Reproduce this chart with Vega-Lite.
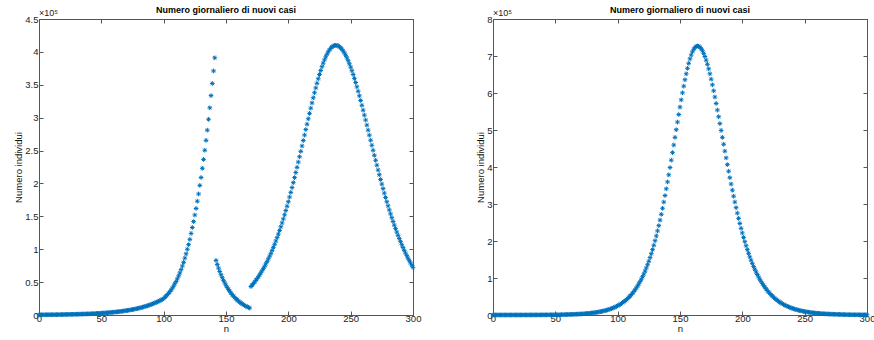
{
"$schema": "https://vega.github.io/schema/vega-lite/v6.json",
"background": "white",
"padding": {"left": 13, "top": 6, "right": 2, "bottom": 0},
"spacing": 54,
"config": {
  "view": {"stroke": null},
  "font": "Liberation Sans",
  "axis": {"grid": false, "domainColor": "#555555", "tickColor": "#555555", "tickSize": -4, "labelFontSize": 9.5, "labelColor": "#222222", "labelPadding": 4, "titleFontSize": 9.5, "titleFontWeight": "normal", "titleColor": "#111111", "titlePadding": 2, "labelFlush": false, "labelOverlap": false},
  "axisX": {"labelPadding": 2, "titlePadding": 1},
  "axisY": {"labelPadding": 5, "titlePadding": 1},
  "title": {"fontSize": 9, "fontWeight": "bold", "color": "#000000", "offset": -6}
},
"datasets": {
"a": [
{"n":0,"c":307},{"n":1,"c":320},{"n":2,"c":335},{"n":3,"c":350},{"n":4,"c":366},{"n":5,"c":382},{"n":6,"c":399},{"n":7,"c":417},{"n":8,"c":436},{"n":9,"c":456},{"n":10,"c":476},{"n":11,"c":498},{"n":12,"c":520},{"n":13,"c":543},{"n":14,"c":568},{"n":15,"c":593},{"n":16,"c":620},{"n":17,"c":648},{"n":18,"c":677},{"n":19,"c":708},{"n":20,"c":739},{"n":21,"c":773},{"n":22,"c":807},{"n":23,"c":844},{"n":24,"c":882},{"n":25,"c":921},{"n":26,"c":963},{"n":27,"c":1006},{"n":28,"c":1051},{"n":29,"c":1099},{"n":30,"c":1148},{"n":31,"c":1200},{"n":32,"c":1254},{"n":33,"c":1310},{"n":34,"c":1369},{"n":35,"c":1431},{"n":36,"c":1495},{"n":37,"c":1562},{"n":38,"c":1633},{"n":39,"c":1706},{"n":40,"c":1783},{"n":41,"c":1863},{"n":42,"c":1947},{"n":43,"c":2034},{"n":44,"c":2126},{"n":45,"c":2222},{"n":46,"c":2322},{"n":47,"c":2426},{"n":48,"c":2535},{"n":49,"c":2649},{"n":50,"c":2768},{"n":51,"c":2893},{"n":52,"c":3023},{"n":53,"c":3159},{"n":54,"c":3301},{"n":55,"c":3450},{"n":56,"c":3605},{"n":57,"c":3767},{"n":58,"c":3937},{"n":59,"c":4114},{"n":60,"c":4299},{"n":61,"c":4492},{"n":62,"c":4695},{"n":63,"c":4906},{"n":64,"c":5127},{"n":65,"c":5357},{"n":66,"c":5598},{"n":67,"c":5850},{"n":68,"c":6113},{"n":69,"c":6388},{"n":70,"c":6676},{"n":71,"c":6976},{"n":72,"c":7290},{"n":73,"c":7618},{"n":74,"c":7961},{"n":75,"c":8319},{"n":76,"c":8693},{"n":77,"c":9084},{"n":78,"c":9493},{"n":79,"c":9920},{"n":80,"c":10366},{"n":81,"c":10833},{"n":82,"c":11320},{"n":83,"c":11830},{"n":84,"c":12362},{"n":85,"c":12918},{"n":86,"c":13500},{"n":87,"c":14107},{"n":88,"c":14742},{"n":89,"c":15405},{"n":90,"c":16098},{"n":91,"c":16822},{"n":92,"c":17579},{"n":93,"c":18370},{"n":94,"c":19197},{"n":95,"c":20061},{"n":96,"c":20964},{"n":97,"c":21907},{"n":98,"c":22893},{"n":99,"c":23923},{"n":100,"c":25000},
{"n":101,"c":27000},{"n":102,"c":29000},{"n":103,"c":31000},{"n":104,"c":33000},{"n":105,"c":35500},{"n":106,"c":38000},{"n":107,"c":41000},{"n":108,"c":44000},{"n":109,"c":47500},{"n":110,"c":51000},{"n":111,"c":55000},{"n":112,"c":59500},{"n":113,"c":64000},{"n":114,"c":69000},{"n":115,"c":74500},{"n":116,"c":80000},{"n":117,"c":86500},{"n":118,"c":93000},{"n":119,"c":100000},{"n":120,"c":107000},{"n":121,"c":115000},{"n":122,"c":124000},{"n":123,"c":133000},{"n":124,"c":142000},{"n":125,"c":152000},{"n":126,"c":162000},{"n":127,"c":173000},{"n":128,"c":184000},{"n":129,"c":197000},{"n":130,"c":209000},{"n":131,"c":223000},{"n":132,"c":236500},{"n":133,"c":250500},{"n":134,"c":265500},{"n":135,"c":281000},{"n":136,"c":297500},{"n":137,"c":315000},{"n":138,"c":333500},{"n":139,"c":352000},{"n":140,"c":371000},{"n":141,"c":391000},
{"n":142,"c":83000},{"n":143,"c":76900},{"n":144,"c":71300},{"n":145,"c":66100},{"n":146,"c":61200},{"n":147,"c":56700},{"n":148,"c":52600},{"n":149,"c":48700},{"n":150,"c":45200},{"n":151,"c":41900},{"n":152,"c":38800},{"n":153,"c":36000},{"n":154,"c":33300},{"n":155,"c":30900},{"n":156,"c":28600},{"n":157,"c":26500},{"n":158,"c":24600},{"n":159,"c":22800},{"n":160,"c":21100},{"n":161,"c":19600},{"n":162,"c":18100},{"n":163,"c":16800},{"n":164,"c":15600},{"n":165,"c":14400},{"n":166,"c":13400},{"n":167,"c":12400},{"n":168,"c":11500},{"n":169,"c":10600},
{"n":170,"c":43300},{"n":171,"c":45500},{"n":172,"c":47800},{"n":173,"c":50300},{"n":174,"c":52800},{"n":175,"c":55400},{"n":176,"c":58200},{"n":177,"c":61100},{"n":178,"c":64200},{"n":179,"c":67300},{"n":180,"c":70600},{"n":181,"c":74100},{"n":182,"c":77800},{"n":183,"c":81500},{"n":184,"c":85400},{"n":185,"c":89500},{"n":186,"c":93700},{"n":187,"c":98200},{"n":188,"c":102800},{"n":189,"c":107500},{"n":190,"c":112500},{"n":191,"c":117600},{"n":192,"c":122900},{"n":193,"c":128400},{"n":194,"c":134100},{"n":195,"c":140000},{"n":196,"c":146100},{"n":197,"c":152300},{"n":198,"c":158800},{"n":199,"c":165400},{"n":200,"c":172200},{"n":201,"c":179300},{"n":202,"c":186400},{"n":203,"c":193700},{"n":204,"c":201200},{"n":205,"c":208900},{"n":206,"c":216600},{"n":207,"c":224500},{"n":208,"c":232500},{"n":209,"c":240600},{"n":210,"c":248800},{"n":211,"c":257000},{"n":212,"c":265300},{"n":213,"c":273600},{"n":214,"c":281900},{"n":215,"c":290100},{"n":216,"c":298300},{"n":217,"c":306500},{"n":218,"c":314500},{"n":219,"c":322400},{"n":220,"c":330300},{"n":221,"c":337900},{"n":222,"c":345200},{"n":223,"c":352300},{"n":224,"c":359100},{"n":225,"c":365600},{"n":226,"c":371700},{"n":227,"c":377500},{"n":228,"c":382900},{"n":229,"c":387900},{"n":230,"c":392400},{"n":231,"c":396400},{"n":232,"c":400000},{"n":233,"c":403000},{"n":234,"c":405500},{"n":235,"c":407500},{"n":236,"c":408900},{"n":237,"c":409700},{"n":238,"c":410000},{"n":239,"c":409800},{"n":240,"c":409000},{"n":241,"c":407800},{"n":242,"c":406100},{"n":243,"c":404000},{"n":244,"c":401300},{"n":245,"c":398300},{"n":246,"c":394800},{"n":247,"c":390900},{"n":248,"c":386600},{"n":249,"c":381900},{"n":250,"c":376800},{"n":251,"c":371400},{"n":252,"c":365700},{"n":253,"c":359700},{"n":254,"c":353400},{"n":255,"c":346900},{"n":256,"c":340200},{"n":257,"c":333200},{"n":258,"c":326100},{"n":259,"c":318800},{"n":260,"c":311400},{"n":261,"c":303900},{"n":262,"c":296400},{"n":263,"c":288700},{"n":264,"c":281100},{"n":265,"c":273400},{"n":266,"c":265700},{"n":267,"c":258000},{"n":268,"c":250400},{"n":269,"c":242800},{"n":270,"c":235200},{"n":271,"c":227800},{"n":272,"c":220400},{"n":273,"c":213200},{"n":274,"c":206000},{"n":275,"c":199000},{"n":276,"c":192100},{"n":277,"c":185300},{"n":278,"c":178700},{"n":279,"c":172200},{"n":280,"c":165900},{"n":281,"c":159700},{"n":282,"c":153700},{"n":283,"c":147900},{"n":284,"c":142200},{"n":285,"c":136600},{"n":286,"c":131300},{"n":287,"c":126100},{"n":288,"c":121100},{"n":289,"c":116200},{"n":290,"c":111500},{"n":291,"c":106900},{"n":292,"c":102500},{"n":293,"c":98200},{"n":294,"c":94100},{"n":295,"c":90200},{"n":296,"c":86400},{"n":297,"c":82700},{"n":298,"c":79200},{"n":299,"c":75800},{"n":300,"c":72500}
],
"b": [
{"n":0,"c":10},{"n":1,"c":10},{"n":2,"c":20},{"n":3,"c":20},{"n":4,"c":20},{"n":5,"c":20},{"n":6,"c":20},{"n":7,"c":20},{"n":8,"c":30},{"n":9,"c":30},{"n":10,"c":30},{"n":11,"c":30},{"n":12,"c":40},{"n":13,"c":40},{"n":14,"c":40},{"n":15,"c":50},{"n":16,"c":50},{"n":17,"c":50},{"n":18,"c":60},{"n":19,"c":60},{"n":20,"c":70},{"n":21,"c":70},{"n":22,"c":80},{"n":23,"c":80},{"n":24,"c":90},{"n":25,"c":100},{"n":26,"c":110},{"n":27,"c":110},{"n":28,"c":120},{"n":29,"c":130},{"n":30,"c":140},{"n":31,"c":150},{"n":32,"c":170},{"n":33,"c":180},{"n":34,"c":190},{"n":35,"c":210},{"n":36,"c":220},{"n":37,"c":240},{"n":38,"c":260},{"n":39,"c":280},{"n":40,"c":300},{"n":41,"c":320},{"n":42,"c":350},{"n":43,"c":370},{"n":44,"c":400},{"n":45,"c":430},{"n":46,"c":470},{"n":47,"c":500},{"n":48,"c":540},{"n":49,"c":580},{"n":50,"c":630},{"n":51,"c":680},{"n":52,"c":730},{"n":53,"c":780},{"n":54,"c":840},{"n":55,"c":910},{"n":56,"c":980},{"n":57,"c":1050},{"n":58,"c":1130},{"n":59,"c":1220},{"n":60,"c":1310},{"n":61,"c":1410},{"n":62,"c":1520},{"n":63,"c":1640},{"n":64,"c":1760},{"n":65,"c":1900},{"n":66,"c":2040},{"n":67,"c":2200},{"n":68,"c":2370},{"n":69,"c":2550},{"n":70,"c":2740},{"n":71,"c":2950},{"n":72,"c":3180},{"n":73,"c":3430},{"n":74,"c":3690},{"n":75,"c":3970},{"n":76,"c":4280},{"n":77,"c":4600},{"n":78,"c":4960},{"n":79,"c":5340},{"n":80,"c":5750},{"n":81,"c":6190},{"n":82,"c":6660},{"n":83,"c":7170},{"n":84,"c":7720},{"n":85,"c":8310},{"n":86,"c":8950},{"n":87,"c":9630},{"n":88,"c":10370},{"n":89,"c":11160},{"n":90,"c":12010},{"n":91,"c":12920},{"n":92,"c":13910},{"n":93,"c":14960},{"n":94,"c":16100},{"n":95,"c":17320},{"n":96,"c":18640},{"n":97,"c":20050},{"n":98,"c":21570},{"n":99,"c":23200},{"n":100,"c":24960},{"n":101,"c":26840},{"n":102,"c":28860},{"n":103,"c":31030},{"n":104,"c":33360},{"n":105,"c":35860},{"n":106,"c":38550},{"n":107,"c":41420},{"n":108,"c":44510},{"n":109,"c":47820},{"n":110,"c":51360},{"n":111,"c":55160},{"n":112,"c":59220},{"n":113,"c":63570},{"n":114,"c":68230},{"n":115,"c":73200},{"n":116,"c":78520},{"n":117,"c":84200},{"n":118,"c":90250},{"n":119,"c":96720},{"n":120,"c":103610},{"n":121,"c":110940},{"n":122,"c":118730},{"n":123,"c":127040},{"n":124,"c":135840},{"n":125,"c":145200},{"n":126,"c":155100},{"n":127,"c":165570},{"n":128,"c":176660},{"n":129,"c":188350},{"n":130,"c":200680},{"n":131,"c":213650},{"n":132,"c":227280},{"n":133,"c":241570},{"n":134,"c":256520},{"n":135,"c":272140},{"n":136,"c":288410},{"n":137,"c":305320},{"n":138,"c":322850},{"n":139,"c":340970},{"n":140,"c":359650},{"n":141,"c":378830},{"n":142,"c":398460},{"n":143,"c":418490},{"n":144,"c":438830},{"n":145,"c":459390},{"n":146,"c":480090},{"n":147,"c":500800},{"n":148,"c":521430},{"n":149,"c":541840},{"n":150,"c":561890},{"n":151,"c":581460},{"n":152,"c":600390},{"n":153,"c":618530},{"n":154,"c":635730},{"n":155,"c":651850},{"n":156,"c":666740},{"n":157,"c":680250},{"n":158,"c":692250},{"n":159,"c":702630},{"n":160,"c":711280},{"n":161,"c":718100},{"n":162,"c":723020},{"n":163,"c":726010},{"n":164,"c":727000},{"n":165,"c":726190},{"n":166,"c":723780},{"n":167,"c":719770},{"n":168,"c":714230},{"n":169,"c":707170},{"n":170,"c":698670},{"n":171,"c":688810},{"n":172,"c":677660},{"n":173,"c":665310},{"n":174,"c":651850},{"n":175,"c":637400},{"n":176,"c":622050},{"n":177,"c":605920},{"n":178,"c":589110},{"n":179,"c":571740},{"n":180,"c":553920},{"n":181,"c":535740},{"n":182,"c":517310},{"n":183,"c":498740},{"n":184,"c":480090},{"n":185,"c":461450},{"n":186,"c":442920},{"n":187,"c":424560},{"n":188,"c":406440},{"n":189,"c":388590},{"n":190,"c":371100},{"n":191,"c":353990},{"n":192,"c":337300},{"n":193,"c":321080},{"n":194,"c":305320},{"n":195,"c":290070},{"n":196,"c":275350},{"n":197,"c":261140},{"n":198,"c":247470},{"n":199,"c":234340},{"n":200,"c":221750},{"n":201,"c":209690},{"n":202,"c":198160},{"n":203,"c":187160},{"n":204,"c":176660},{"n":205,"c":166660},{"n":206,"c":157150},{"n":207,"c":148100},{"n":208,"c":139520},{"n":209,"c":131370},{"n":210,"c":123650},{"n":211,"c":116350},{"n":212,"c":109440},{"n":213,"c":102890},{"n":214,"c":96720},{"n":215,"c":90880},{"n":216,"c":85380},{"n":217,"c":80180},{"n":218,"c":75290},{"n":219,"c":70670},{"n":220,"c":66330},{"n":221,"c":62240},{"n":222,"c":58390},{"n":223,"c":54770},{"n":224,"c":51360},{"n":225,"c":48160},{"n":226,"c":45160},{"n":227,"c":42330},{"n":228,"c":39670},{"n":229,"c":37180},{"n":230,"c":34840},{"n":231,"c":32650},{"n":232,"c":30580},{"n":233,"c":28650},{"n":234,"c":26840},{"n":235,"c":25140},{"n":236,"c":23540},{"n":237,"c":22050},{"n":238,"c":20650},{"n":239,"c":19330},{"n":240,"c":18100},{"n":241,"c":16950},{"n":242,"c":15870},{"n":243,"c":14850},{"n":244,"c":13910},{"n":245,"c":13020},{"n":246,"c":12180},{"n":247,"c":11400},{"n":248,"c":10670},{"n":249,"c":9990},{"n":250,"c":9350},{"n":251,"c":8750},{"n":252,"c":8190},{"n":253,"c":7670},{"n":254,"c":7170},{"n":255,"c":6710},{"n":256,"c":6280},{"n":257,"c":5870},{"n":258,"c":5490},{"n":259,"c":5140},{"n":260,"c":4810},{"n":261,"c":4500},{"n":262,"c":4210},{"n":263,"c":3930},{"n":264,"c":3680},{"n":265,"c":3440},{"n":266,"c":3220},{"n":267,"c":3010},{"n":268,"c":2820},{"n":269,"c":2640},{"n":270,"c":2470},{"n":271,"c":2310},{"n":272,"c":2160},{"n":273,"c":2020},{"n":274,"c":1890},{"n":275,"c":1770},{"n":276,"c":1650},{"n":277,"c":1550},{"n":278,"c":1450},{"n":279,"c":1350},{"n":280,"c":1270},{"n":281,"c":1180},{"n":282,"c":1110},{"n":283,"c":1040},{"n":284,"c":970},{"n":285,"c":910},{"n":286,"c":850},{"n":287,"c":790},{"n":288,"c":740},{"n":289,"c":690},{"n":290,"c":650},{"n":291,"c":610},{"n":292,"c":570},{"n":293,"c":530},{"n":294,"c":500},{"n":295,"c":470},{"n":296,"c":440},{"n":297,"c":410},{"n":298,"c":380},{"n":299,"c":360},{"n":300,"c":330}
],
"ea": [{"n":0,"c":450000,"t":"×10⁵"}],
"eb": [{"n":0,"c":800000,"t":"×10⁵"}]
},
"hconcat": [
{
  "width": 374, "height": 296,
  "title": "Numero giornaliero di nuovi casi",
  "layer": [
    {"data": {"name": "a"},
     "mark": {"type": "point", "shape": "M-1,0L1,0M0,-1L0,1M-0.7,-0.7L0.7,0.7M-0.7,0.7L0.7,-0.7", "filled": false, "color": "#0072BD", "size": 22, "strokeWidth": 1, "opacity": 1},
     "encoding": {
       "x": {"field": "n", "type": "quantitative", "scale": {"domain": [0, 300], "nice": false}, "axis": {"orient": "bottom", "values": [0,50,100,150,200,250,300], "title": "n"}},
       "y": {"field": "c", "type": "quantitative", "scale": {"domain": [0, 450000], "nice": false}, "axis": {"orient": "left", "values": [0,50000,100000,150000,200000,250000,300000,350000,400000,450000], "labelExpr": "'' + datum.value/100000", "title": "Numero individui"}}
     }},
    {"data": {"name": "a"},
     "mark": {"type": "point", "opacity": 0},
     "encoding": {
       "x": {"field": "n", "type": "quantitative", "axis": {"orient": "top", "values": [0,50,100,150,200,250,300], "labels": false, "title": null}},
       "y": {"field": "c", "type": "quantitative", "axis": {"orient": "right", "values": [0,50000,100000,150000,200000,250000,300000,350000,400000,450000], "labels": false, "title": null}}
     }},
    {"data": {"name": "ea"},
     "mark": {"type": "text", "align": "left", "baseline": "bottom", "dx": 0, "dy": -1, "fontSize": 9, "color": "#222222"},
     "encoding": {
       "x": {"field": "n", "type": "quantitative", "axis": null},
       "y": {"field": "c", "type": "quantitative", "axis": null},
       "text": {"field": "t"}
     }}
  ],
  "resolve": {"axis": {"x": "independent", "y": "independent"}}
},
{
  "width": 374, "height": 296,
  "title": "Numero giornaliero di nuovi casi",
  "layer": [
    {"data": {"name": "b"},
     "mark": {"type": "point", "shape": "M-1,0L1,0M0,-1L0,1M-0.7,-0.7L0.7,0.7M-0.7,0.7L0.7,-0.7", "filled": false, "color": "#0072BD", "size": 22, "strokeWidth": 1, "opacity": 1},
     "encoding": {
       "x": {"field": "n", "type": "quantitative", "scale": {"domain": [0, 300], "nice": false}, "axis": {"orient": "bottom", "values": [0,50,100,150,200,250,300], "title": "n"}},
       "y": {"field": "c", "type": "quantitative", "scale": {"domain": [0, 800000], "nice": false}, "axis": {"orient": "left", "values": [0,100000,200000,300000,400000,500000,600000,700000,800000], "labelExpr": "'' + datum.value/100000", "title": "Numero individui"}}
     }},
    {"data": {"name": "b"},
     "mark": {"type": "point", "opacity": 0},
     "encoding": {
       "x": {"field": "n", "type": "quantitative", "axis": {"orient": "top", "values": [0,50,100,150,200,250,300], "labels": false, "title": null}},
       "y": {"field": "c", "type": "quantitative", "axis": {"orient": "right", "values": [0,100000,200000,300000,400000,500000,600000,700000,800000], "labels": false, "title": null}}
     }},
    {"data": {"name": "eb"},
     "mark": {"type": "text", "align": "left", "baseline": "bottom", "dx": 0, "dy": -1, "fontSize": 9, "color": "#222222"},
     "encoding": {
       "x": {"field": "n", "type": "quantitative", "axis": null},
       "y": {"field": "c", "type": "quantitative", "axis": null},
       "text": {"field": "t"}
     }}
  ],
  "resolve": {"axis": {"x": "independent", "y": "independent"}}
}
]
}
